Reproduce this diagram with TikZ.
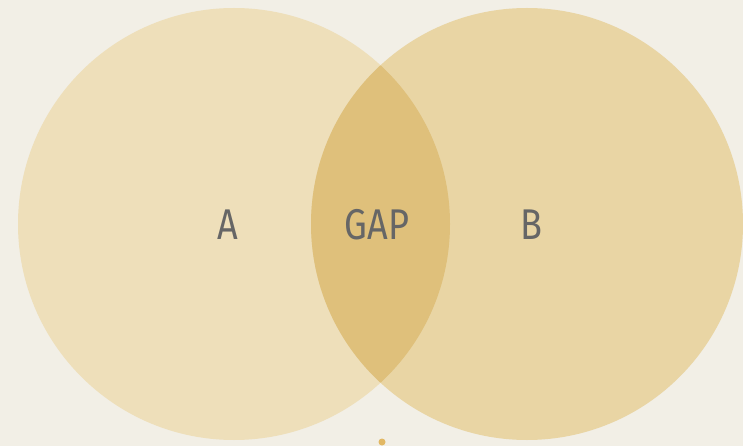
\documentclass[tikz,border=0pt]{standalone}
\usepackage{fontspec}
\setmainfont{Fira Sans}
\definecolor{paper}{HTML}{F2EFE6}
\definecolor{fillA}{HTML}{EEDFBA}
\definecolor{fillB}{HTML}{E9D5A4}
\definecolor{fillGap}{HTML}{DFC07B}
\definecolor{dotc}{HTML}{E2B864}
\definecolor{txt}{HTML}{666666}
\tikzset{
  lbl/.style={text=txt, font=\fontsize{43}{43}\selectfont, inner sep=0pt, anchor=center}
}
\begin{document}
\begin{tikzpicture}[x=1pt,y=-1pt]
\useasboundingbox (0,0) rectangle (743,446);
\fill[paper] (0,0) rectangle (743,446);
\fill[fillA] (234,224) circle[radius=216];
\fill[fillB] (527,224) circle[radius=216];
\begin{scope}
  \clip (234,224) circle[radius=216];
  \fill[fillGap] (527,224) circle[radius=216];
\end{scope}
\fill[dotc] (382,442) circle[radius=3.5];
\node[lbl] (a) at (228,225) {\scalebox{0.84}[1]{A}};
\node[lbl] (gap) at (377,225) {\scalebox{0.84}[1]{GAP}};
\node[lbl] (b) at (531,225) {\scalebox{0.84}[1]{B}};
\end{tikzpicture}
\end{document}
